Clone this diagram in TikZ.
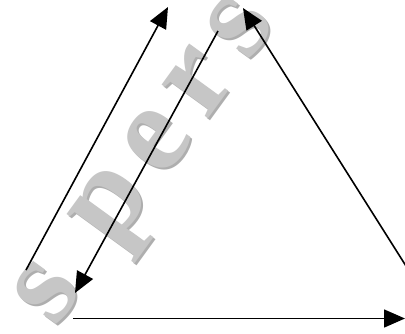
\documentclass[tikz,border=0pt]{standalone}
\usepackage{fontspec}
\setmainfont{Liberation Serif}
\newfontfamily\markfont[LetterSpace=13.5]{Liberation Serif}
\usetikzlibrary{arrows.meta}

\definecolor{marklight}{RGB}{198,198,198}
\definecolor{markdark}{RGB}{174,174,174}
\tikzset{
  arrowline/.style={line width=1.6pt, -{Triangle[length=21pt,width=18pt]}},
  watermark/.style={anchor=mid west, rotate=54, inner sep=0pt,
    font=\markfont\bfseries\fontsize{125}{125}\selectfont}
}

\begin{document}
\begin{tikzpicture}[x=1pt,y=-1pt]
    \clip (0,0) rectangle (405,333);
    \fill[white] (0,0) rectangle (405,333);
    % watermark behind the arrows
    \node[watermark, text=markdark] (markshade) at (56,329) {s pers};
    \node[watermark, text=marklight] (mark) at (54,327) {s pers};
    % end points
    \coordinate (upstart) at (26,270);
    \coordinate (uptip) at (168,7);
    \coordinate (downstart) at (218,31);
    \coordinate (downtip) at (75,293);
    \coordinate (rightstart) at (406,266);
    \coordinate (righttip) at (243,8);
    \coordinate (basestart) at (73,318.5);
    \coordinate (basetip) at (405,318.5);
    \draw[arrowline] (upstart) -- (uptip);
    \draw[arrowline] (downstart) -- (downtip);
    \draw[arrowline] (rightstart) -- (righttip);
    \draw[arrowline] (basestart) -- (basetip);
\end{tikzpicture}
\end{document}
